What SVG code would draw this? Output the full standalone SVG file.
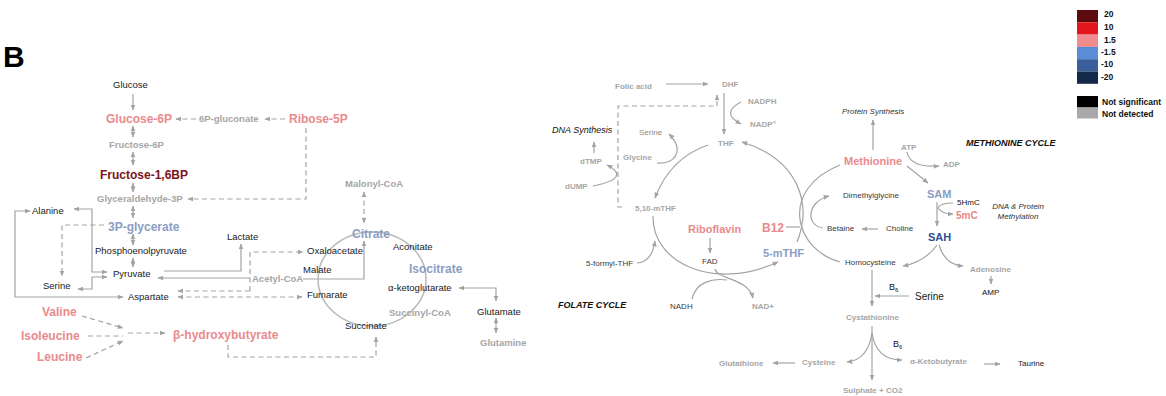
<svg xmlns="http://www.w3.org/2000/svg" width="1166" height="396" viewBox="0 0 1166 396">
<defs>
<style>
text{font-family:"Liberation Sans",Arial,sans-serif}
.s{font-size:9.5px;fill:#1a1a1a}
.sg{font-size:9.5px;fill:#a6a6a6;font-weight:bold}
.pk{font-size:12px;fill:#e98a8c;font-weight:bold}
.bg{font-size:12px;fill:#8b9dc3;font-weight:bold}
.dr{font-size:12px;fill:#7c1518;font-weight:bold}
.r{font-size:8px;fill:#3a3a3a}
.rg{font-size:8px;fill:#a6a6a6;font-weight:bold}
.rpk{font-size:11px;fill:#e98a8c;font-weight:bold}
.rbg{font-size:11px;fill:#8b9dc3;font-weight:bold}
.it{font-size:8px;fill:#333;font-style:italic}
.title{font-size:9px;fill:#111;font-weight:bold;font-style:italic}
.lg{font-size:8.5px;fill:#111;font-weight:bold}
.c{fill:none;stroke:#a3a3a3;stroke-width:1.2}
.d{fill:none;stroke:#a3a3a3;stroke-width:1.2;stroke-dasharray:5 3.5}
.a{marker-end:url(#ah)}
.b{marker-start:url(#ah);marker-end:url(#ah)}
</style>
<marker id="ah" viewBox="0 0 10 10" refX="9" refY="5" markerWidth="5" markerHeight="5" orient="auto-start-reverse">
<path d="M0,1 L10,5 L0,9 z" fill="#a3a3a3"/>
</marker>
</defs>
<rect width="1166" height="396" fill="#fff"/>

<text x="3" y="67" style="font-size:30px;font-weight:bold;fill:#000">B</text>

<g id="connectors">
<!-- left panel -->
<path class="c a" d="M133,94 V110"/>
<path class="c b" d="M133,126 V137"/>
<path class="c b" d="M133,152 V165"/>
<path class="c b" d="M133,183 V192"/>
<path class="c b" d="M133,206 V218"/>
<path class="c b" d="M133,234 V245"/>
<path class="c b" d="M133,258 V267"/>
<path class="d a" d="M196,119 H176"/>
<path class="d a" d="M285,119 H265"/>
<path class="d a" d="M306,128 V199 H188"/>
<path class="c b" d="M107,272 H92 V209 H74"/>
<path class="c b" d="M30,211 H15 V297 H123"/>
<path class="c b" d="M78,289 H92 V277 H107"/>
<path class="d a" d="M104,225 H62 V276"/>
<path class="c a" d="M164,271 H241 V244"/>
<path class="c a" d="M250,278 H158"/>
<path class="c a" d="M303,279 H364 V241"/>
<path class="d a" d="M250,291 V252 H303"/>
<path class="d a" d="M250,291 H178"/>
<path class="d b" d="M178,297 H302"/>
<path class="d b" d="M364,192 V223"/>
<path class="c b" d="M459,288 H496 V301"/>
<path class="c b" d="M496,318 V333"/>
<path class="d a" d="M228,345 V357 H376 V337"/>
<path class="d a" d="M82,316 L123,328"/>
<path class="d" d="M88,336 H123"/>
<path class="d a" d="M86,358 L123,341"/>
<path class="d a" d="M128,333 H165"/>
<ellipse cx="372" cy="279" rx="54" ry="47" fill="none" stroke="#b8b8b8" stroke-width="1.5"/>
<!-- folate cycle -->
<path class="c a" d="M666,84 H708"/>
<path class="c a" d="M724,93 V134"/>
<path class="c a" d="M741,102 Q720,113 741,124"/>
<path class="d a" d="M622,207 H618 V106 H717 V95"/>
<path class="c a" d="M594,153 V142"/>
<path class="c a" d="M593,186 Q632,178 607,165"/>
<path class="c a" d="M657,163 C675,165 685,150 669,134"/>
<path class="c a" d="M708,145 Q670,158 655,198"/>
<path class="c a" d="M653,216 C652,262 712,292 778,262"/>
<path class="c a" d="M797,242 C812,205 800,160 742,142"/>
<path class="c a" d="M637,263 Q652,262 655,241"/>
<path class="c a" d="M710,238 V253"/>
<path class="c a" d="M715,269 C718,280 748,278 753,298"/>
<path class="c" d="M692,299 C696,282 712,278 727,280"/>
<!-- methionine cycle -->
<path class="c" d="M840,262 C795,250 778,190 840,165"/>
<path class="c a" d="M823,228 C806,226 806,202 829,196"/>
<path class="c" d="M786,227 H800"/>
<path class="c a" d="M873,150 V120"/>
<path class="c a" d="M907,166 L928,183"/>
<path class="c a" d="M907,152 Q910,168 939,166"/>
<path class="c a" d="M937,202 V226"/>
<path class="c" d="M953,203 Q940,203 938,208"/>
<path class="c a" d="M938,208 Q942,214 953,214"/>
<path class="c a" d="M878,229 H862"/>
<path class="c a" d="M937,245 Q925,262 903,266"/>
<path class="c a" d="M939,245 Q945,265 963,266"/>
<path class="c a" d="M991,276 V284"/>
<path class="c a" d="M872,270 V306"/>
<path class="c a" d="M909,296 H875"/>
<path class="c a" d="M872,326 V380"/>
<path class="c a" d="M872,333 Q868,360 847,362"/>
<path class="c a" d="M872,333 Q876,360 902,360"/>
<path class="c a" d="M984,364 H1000"/>
<path class="c a" d="M795,363 H773"/>
</g>

<!-- left panel nodes -->
<g id="n-glucose"><text class="s" x="113" y="88">Glucose</text></g>
<g id="n-glucose6p"><text class="pk" x="106" y="123">Glucose-6P</text></g>
<g id="n-6pgluconate"><text class="sg" x="199" y="122">6P-gluconate</text></g>
<g id="n-ribose5p"><text class="pk" x="289" y="123">Ribose-5P</text></g>
<g id="n-fructose6p"><text class="sg" x="109" y="148">Fructose-6P</text></g>
<g id="n-fructose16bp"><text class="dr" x="100" y="179">Fructose-1,6BP</text></g>
<g id="n-glyceraldehyde3p"><text class="sg" x="97" y="202">Glyceraldehyde-3P</text></g>
<g id="n-alanine"><text class="s" x="32" y="214">Alanine</text></g>
<g id="n-3pglycerate"><text class="bg" x="108" y="231">3P-glycerate</text></g>
<g id="n-pep"><text class="s" x="95" y="254">Phosphoenolpyruvate</text></g>
<g id="n-pyruvate"><text class="s" x="113" y="277">Pyruvate</text></g>
<g id="n-serine"><text class="s" x="43" y="289">Serine</text></g>
<g id="n-aspartate"><text class="s" x="128" y="300">Aspartate</text></g>
<g id="n-lactate"><text class="s" x="227" y="240">Lactate</text></g>
<g id="n-acetylcoa"><text class="sg" x="252" y="282">Acetyl-CoA</text></g>
<g id="n-oxaloacetate"><text class="s" x="307" y="254">Oxaloacetate</text></g>
<g id="n-malate"><text class="s" x="303" y="273">Malate</text></g>
<g id="n-fumarate"><text class="s" x="307" y="298">Fumarate</text></g>
<g id="n-malonylcoa"><text class="sg" x="345" y="187">Malonyl-CoA</text></g>
<g id="n-citrate"><text class="bg" x="352" y="238">Citrate</text></g>
<g id="n-aconitate"><text class="s" x="393" y="250">Aconitate</text></g>
<g id="n-isocitrate"><text class="bg" x="409" y="273">Isocitrate</text></g>
<g id="n-akg"><text class="s" x="388" y="291">α-ketoglutarate</text></g>
<g id="n-succinylcoa"><text class="sg" x="389" y="316">Succinyl-CoA</text></g>
<g id="n-succinate"><text class="s" x="345" y="329">Succinate</text></g>
<g id="n-glutamate"><text class="s" x="477" y="315">Glutamate</text></g>
<g id="n-glutamine"><text class="sg" x="480" y="346">Glutamine</text></g>
<g id="n-valine"><text class="pk" x="42" y="316">Valine</text></g>
<g id="n-isoleucine"><text class="pk" x="21" y="340">Isoleucine</text></g>
<g id="n-leucine"><text class="pk" x="37" y="361">Leucine</text></g>
<g id="n-bhb"><text class="pk" x="173" y="339">β-hydroxybutyrate</text></g>

<!-- folate cycle nodes -->
<g id="n-folicacid"><text class="rg" x="615" y="89">Folic acid</text></g>
<g id="n-dhf"><text class="rg" x="722" y="87">DHF</text></g>
<g id="n-nadph"><text class="rg" x="748" y="104">NADPH</text></g>
<g id="n-nadp"><text class="rg" x="750" y="127">NADP⁺</text></g>
<g id="n-thf"><text class="rg" x="718" y="146">THF</text></g>
<g id="n-dnasynthesis"><text class="it" x="552" y="133" style="font-size:9px;fill:#111">DNA Synthesis</text></g>
<g id="n-dtmp"><text class="rg" x="580" y="164">dTMP</text></g>
<g id="n-dump"><text class="rg" x="565" y="189">dUMP</text></g>
<g id="n-serine2"><text class="r" x="639" y="135" style="fill:#8f8a80">Serine</text></g>
<g id="n-glycine"><text class="rg" x="623" y="160">Glycine</text></g>
<g id="n-510mthf"><text class="rg" x="635" y="211">5,10-mTHF</text></g>
<g id="n-riboflavin"><text class="rpk" x="688" y="233">Riboflavin</text></g>
<g id="n-b12"><text class="rpk" x="762" y="232" style="font-size:12px">B12</text></g>
<g id="n-5mthf"><text class="rbg" x="763" y="257">5-mTHF</text></g>
<g id="n-fad"><text class="r" x="702" y="264">FAD</text></g>
<g id="n-5formylthf"><text class="r" x="586" y="266">5-formyl-THF</text></g>
<g id="n-nadh"><text class="r" x="670" y="309">NADH</text></g>
<g id="n-nadplus"><text class="rg" x="752" y="309">NAD+</text></g>
<g id="n-folatecycle"><text class="title" x="558" y="308">FOLATE CYCLE</text></g>

<!-- methionine cycle nodes -->
<g id="n-proteinsynthesis"><text class="it" x="842" y="114">Protein Synthesis</text></g>
<g id="n-methionine"><text class="rpk" x="844" y="165">Methionine</text></g>
<g id="n-atp"><text class="rg" x="901" y="150">ATP</text></g>
<g id="n-adp"><text class="rg" x="943" y="167">ADP</text></g>
<g id="n-methioninecycle"><text class="title" x="966" y="146">METHIONINE CYCLE</text></g>
<g id="n-sam"><text class="rbg" x="927" y="198">SAM</text></g>
<g id="n-5hmc"><text class="r" x="957" y="205" style="fill:#111">5HmC</text></g>
<g id="n-5mc"><text class="rpk" x="956" y="219" style="font-size:10px">5mC</text></g>
<g id="n-dnamethylation"><text class="it" x="1018" y="209" text-anchor="middle">DNA &amp; Protein</text><text class="it" x="1018" y="219" text-anchor="middle">Methylation</text></g>
<g id="n-dimethylglycine"><text class="r" x="843" y="198">Dimethylglycine</text></g>
<g id="n-betaine"><text class="r" x="827" y="231">Betaine</text></g>
<g id="n-choline"><text class="r" x="886" y="231">Choline</text></g>
<g id="n-sah"><text class="rbg" x="928" y="241" style="fill:#2f4f8f">SAH</text></g>
<g id="n-homocysteine"><text class="r" x="845" y="265">Homocysteine</text></g>
<g id="n-adenosine"><text class="rg" x="970" y="272">Adenosine</text></g>
<g id="n-amp"><text class="r" x="982" y="295" style="fill:#111">AMP</text></g>
<g id="n-b6a"><text class="r" x="889" y="290" style="fill:#111;font-size:9px">B<tspan style="font-size:6px" dy="2">6</tspan></text></g>
<g id="n-serine3"><text class="s" x="915" y="300" style="font-size:10px">Serine</text></g>
<g id="n-cystathionine"><text class="rg" x="846" y="320">Cystathionine</text></g>
<g id="n-b6b"><text class="r" x="893" y="347" style="fill:#111;font-size:9px">B<tspan style="font-size:6px" dy="2">6</tspan></text></g>
<g id="n-cysteine"><text class="rg" x="802" y="365">Cysteine</text></g>
<g id="n-ketobutyrate"><text class="rg" x="910" y="364">α-Ketobutyrate</text></g>
<g id="n-taurine"><text class="r" x="1018" y="366" style="fill:#222">Taurine</text></g>
<g id="n-sulphate"><text class="rg" x="843" y="393">Sulphate + CO2</text></g>
<g id="n-glutathione"><text class="rg" x="719" y="366">Glutathione</text></g>

<!-- legend -->
<g id="legend">
<rect x="1077" y="10" width="21" height="12.3" fill="#5c0a0c"/>
<rect x="1077" y="22.3" width="21" height="12.3" fill="#e2161c"/>
<rect x="1077" y="34.6" width="21" height="12.3" fill="#f28b8d"/>
<rect x="1077" y="46.9" width="21" height="12.3" fill="#5a8fd8"/>
<rect x="1077" y="59.2" width="21" height="12.3" fill="#3a5f9a"/>
<rect x="1077" y="71.5" width="21" height="12.3" fill="#14284a"/>
<text class="lg" x="1104" y="17">20</text>
<text class="lg" x="1104" y="30">10</text>
<text class="lg" x="1104" y="43">1.5</text>
<text class="lg" x="1101" y="55">-1.5</text>
<text class="lg" x="1101" y="67">-10</text>
<text class="lg" x="1101" y="80">-20</text>
<rect x="1077" y="96" width="21" height="11.5" fill="#000"/>
<rect x="1077" y="107.5" width="21" height="11" fill="#a9a9a9"/>
<text class="lg" x="1102" y="105">Not significant</text>
<text class="lg" x="1102" y="117">Not detected</text>
</g>
</svg>
